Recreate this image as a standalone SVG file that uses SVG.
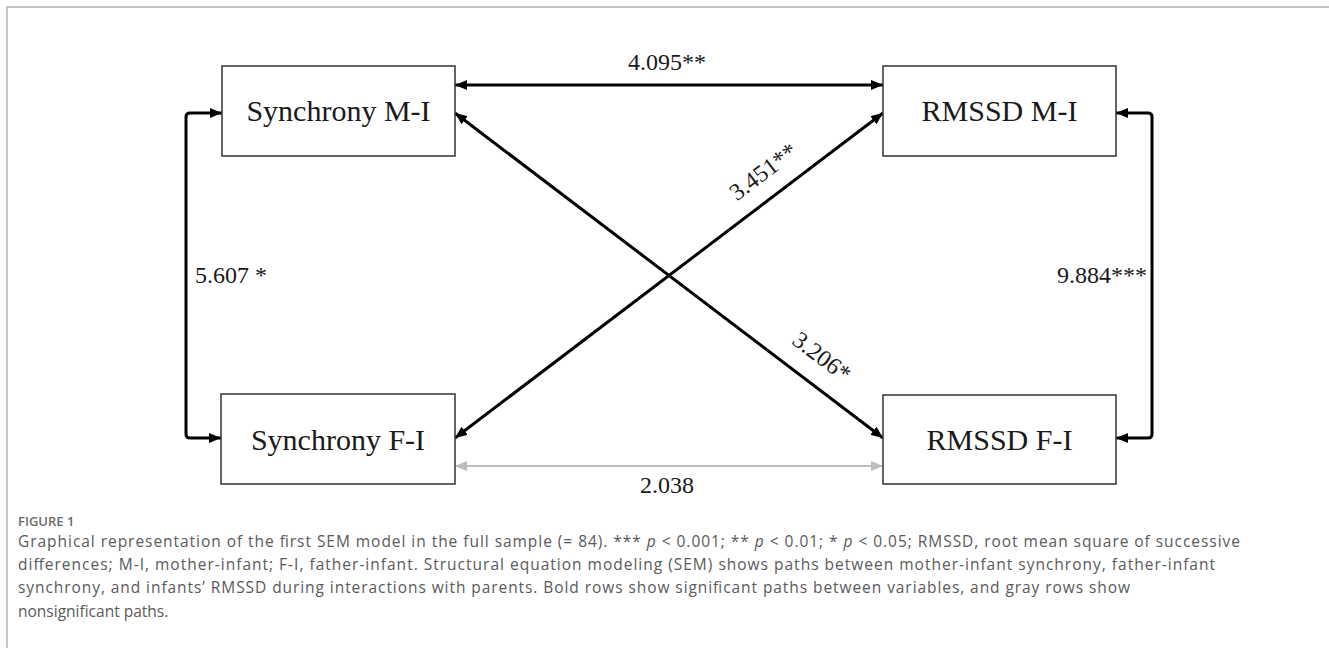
<svg xmlns="http://www.w3.org/2000/svg" width="1329" height="659" viewBox="0 0 1329 659">
  <style>
    .frame { fill: none; stroke: #b4b4b4; stroke-width: 1.5; }
    .box { fill: #ffffff; stroke: #333333; stroke-width: 1.5; }
    .node-label { font-family: "Liberation Serif", "Times New Roman", serif; font-size: 30px; fill: #1a1a1a; text-anchor: middle; }
    .coef { font-family: "Liberation Serif", "Times New Roman", serif; font-size: 24px; fill: #1a1a1a; }
    .sig { fill: none; stroke: #000000; stroke-width: 3; stroke-linejoin: round; marker-start: url(#arrowBlack); marker-end: url(#arrowBlack); }
    .nonsig { fill: none; stroke: #bdbdbd; stroke-width: 2; marker-start: url(#arrowGray); marker-end: url(#arrowGray); }
    .fig-no { font-family: "Open Sans", Lato, sans-serif; font-size: 13px; font-weight: 600; fill: #6b6b6b; }
    .caption { font-family: "Open Sans", Lato, sans-serif; font-size: 15.5px; fill: #5a5a5a; }
  </style>
  <defs>
    <marker id="arrowBlack" viewBox="0 0 12 10" refX="12" refY="5" markerWidth="12" markerHeight="10" markerUnits="userSpaceOnUse" orient="auto-start-reverse">
      <path d="M0,0 L12,5 L0,10 Z" fill="#000000"/>
    </marker>
    <marker id="arrowGray" viewBox="0 0 12 10" refX="12" refY="5" markerWidth="12" markerHeight="10" markerUnits="userSpaceOnUse" orient="auto-start-reverse">
      <path d="M0,0 L12,5 L0,10 Z" fill="#bdbdbd"/>
    </marker>
  </defs>

  <rect width="1329" height="659" fill="#ffffff"/>
  <!-- figure frame: top and left rules -->
  <path class="frame" d="M7,648 V7 H1329"/>

  <!-- paths between variables -->
  <g id="connectors">
    <path class="sig" d="M455,85 H883"/>
    <path class="sig" d="M455,438 L883,113"/>
    <path class="sig" d="M455,113 L883,438"/>
    <path class="sig" d="M222,113 H190 Q186,113 186,117 V434 Q186,438 190,438 H221"/>
    <path class="sig" d="M1116,113 H1148 Q1152,113 1152,117 V434 Q1152,438 1148,438 H1116"/>
    <path class="nonsig" d="M455,466 H883"/>

    <text class="coef" x="667" y="70" text-anchor="middle">4.095**</text>
    <text class="coef" x="667" y="493" text-anchor="middle">2.038</text>
    <text class="coef" x="195" y="283">5.607 *</text>
    <text class="coef" x="1147" y="283" text-anchor="end">9.884***</text>
    <text class="coef" x="768" y="178" text-anchor="middle" transform="rotate(-37.2 768 178)">3.451**</text>
    <text class="coef" x="817" y="363" text-anchor="middle" transform="rotate(37.2 817 363)">3.206*</text>
  </g>

  <g id="sync-mi">
    <rect class="box" x="222" y="66" width="233" height="90"/>
    <text class="node-label" x="338.5" y="121">Synchrony M-I</text>
  </g>
  <g id="rmssd-mi">
    <rect class="box" x="883" y="66" width="233" height="90"/>
    <text class="node-label" x="999.5" y="121">RMSSD M-I</text>
  </g>
  <g id="sync-fi">
    <rect class="box" x="221" y="394" width="234" height="90"/>
    <text class="node-label" x="338" y="450">Synchrony F-I</text>
  </g>
  <g id="rmssd-fi">
    <rect class="box" x="883" y="395" width="233" height="89"/>
    <text class="node-label" x="999.5" y="450">RMSSD F-I</text>
  </g>

  <!-- caption -->
  <text class="fig-no" x="18" y="526">FIGURE 1</text>
  <text class="caption" x="18" y="547" textLength="1222" lengthAdjust="spacing">Graphical representation of the first SEM model in the full sample (= 84). *** <tspan font-style="italic">p</tspan> &lt; 0.001; ** <tspan font-style="italic">p</tspan> &lt; 0.01; * <tspan font-style="italic">p</tspan> &lt; 0.05; RMSSD, root mean square of successive</text>
  <text class="caption" x="18" y="570" textLength="1197" lengthAdjust="spacing">differences; M-I, mother-infant; F-I, father-infant. Structural equation modeling (SEM) shows paths between mother-infant synchrony, father-infant</text>
  <text class="caption" x="18" y="593" textLength="1112" lengthAdjust="spacing">synchrony, and infants’ RMSSD during interactions with parents. Bold rows show significant paths between variables, and gray rows show</text>
  <text class="caption" x="18" y="617">nonsignificant paths.</text>
</svg>
